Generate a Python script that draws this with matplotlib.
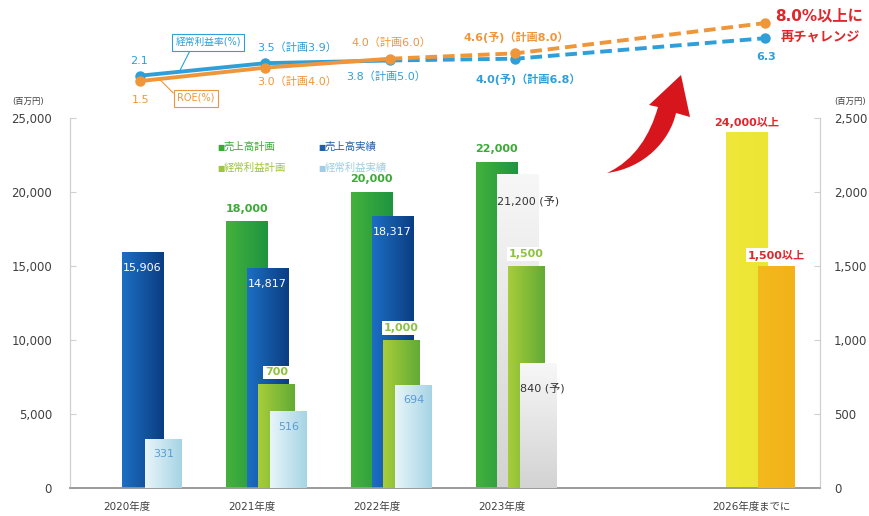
import numpy as np
import matplotlib
matplotlib.use("Agg")
import matplotlib.pyplot as plt
from matplotlib.colors import to_rgb
from matplotlib.path import Path
from matplotlib.patches import PathPatch

plt.rcParams['font.family'] = ['DejaVu Sans', 'Noto Sans CJK JP']

# --- data ---
years = ["2020年度", "2021年度", "2022年度", "2023年度", "2026年度までに"]
year_pos = [0, 1, 2, 3, 5]

plan_pos = [1, 2, 3]
sales_plan = [18000, 20000, 22000]
profit_plan = [700, 1000, 1500]

actual_pos = [0, 1, 2]
sales_actual = [15906, 14817, 18317]
profit_actual = [331, 516, 694]

fc_pos = 3
sales_fc = 21200
profit_fc = 840

target_pos = 5
sales_target = 24000
profit_target = 1500

margin = [2.1, 3.5, 3.8, 4.0, 6.3]
margin_txt = ["2.1", "3.5（計画3.9）", "3.8（計画5.0）", "4.0(予)（計画6.8）", "6.3"]
roe = [1.5, 3.0, 4.0, 4.6, 8.0]
roe_txt = ["1.5", "3.0（計画4.0）", "4.0（計画6.0）", "4.6(予)（計画8.0）", "8.0%以上に"]

# colours
GREEN = ('#43b23c', '#1f9440')
BLUE = ('#1c6fc4', '#0b3d82')
LGREEN = ('#a8cd3a', '#62ab36')
LBLUE = ('#e8f5f9', '#a6d4e5')
GREY = ('#f7f7f7', '#d3d3d3')
YELLOW = ('#efe83a', '#ece535')
ORANGE = ('#f4b91c', '#f1b21a')
C_LINE_B = '#2e9fd8'
C_LINE_O = '#f0963a'
RED = '#e0262a'

# bar offsets (left, width) relative to category position
OFF_G = (-0.208, 0.333)
OFF_B = (-0.04, 0.333)
OFF_LG = (0.052, 0.29)
OFF_LB = (0.148, 0.292)

W, H = 870, 516
fig = plt.figure(figsize=(8.7, 5.16), dpi=100)
L, R, B, T = 70 / W, 820 / W, 1 - 488 / H, 1 - 118 / H
XLIM = (-0.454, 5.546)

ax = fig.add_axes([L, B, R - L, T - B])
ax2 = ax.twinx()


def grad_bar(a, x, off, h, cols, z, vertical=False):
    c1, c2 = np.array(to_rgb(cols[0])), np.array(to_rgb(cols[1]))
    t = np.linspace(0, 1, 64)[:, None]
    g = c1 + (c2 - c1) * t
    img = g[:, None, :] if vertical else g[None, :, :]
    x0 = x + off[0]
    a.imshow(img, extent=[x0, x0 + off[1], 0, h], aspect='auto',
             interpolation='bilinear', origin='upper', zorder=z)
    return x0 + off[1] / 2


def lab(a, x, y, s, dy, color, bold=False, box=False, ha='center', size=8):
    a.annotate(s, xy=(x, y), xytext=(0, dy), textcoords='offset pixels',
               ha=ha, va='center', color=color, fontsize=size,
               fontweight='bold' if bold else 'normal', zorder=20,
               bbox=dict(fc='white', ec='none', pad=1.2) if box else None)


# sales (left axis)
for x, v in zip(plan_pos, sales_plan):
    cx = grad_bar(ax, x, OFF_G, v, GREEN, 2)
    lab(ax, cx, v, f"{v:,}", 13, '#3aaa35', bold=True)
for x, v in zip(actual_pos, sales_actual):
    cx = grad_bar(ax, x, OFF_B, v, BLUE, 3)
    lab(ax, cx, v, f"{v:,}", -15, 'white')
grad_bar(ax, fc_pos, OFF_B, sales_fc, GREY, 3, vertical=True)
lab(ax, fc_pos + OFF_B[0], sales_fc, f"{sales_fc:,} (予)", -27, '#333333', ha='left')
cx = grad_bar(ax, target_pos, OFF_G, sales_target, YELLOW, 2)
lab(ax, cx, sales_target, f"{sales_target:,}以上", 10, RED, bold=True, box=True)

# ordinary profit (right axis)
for x, v in zip(plan_pos, profit_plan):
    cx = grad_bar(ax2, x, OFF_LG, v, LGREEN, 4)
    lab(ax2, cx, v, f"{v:,}", 12, '#8dc23f', bold=True, box=True)
for x, v in zip(actual_pos, profit_actual):
    cx = grad_bar(ax2, x, OFF_LB, v, LBLUE, 5)
    lab(ax2, cx, v, f"{v:,}", -15, '#5b9bd5')
grad_bar(ax2, fc_pos, OFF_LB, profit_fc, GREY, 5, vertical=True)
lab(ax2, fc_pos + OFF_LB[0], profit_fc, f"{profit_fc:,} (予)", -25, '#333333', ha='left')
cx = grad_bar(ax2, target_pos, OFF_LG, profit_target, ORANGE, 4)
lab(ax2, cx, profit_target, f"{profit_target:,}以上", 11, RED, bold=True, box=True)

for a in (ax, ax2):
    a.set_xlim(*XLIM)
    for s in a.spines.values():
        s.set_color('#d0d0d0')
    a.spines['top'].set_visible(False)
    a.spines['bottom'].set_color('#9a9a9a')
    a.spines['bottom'].set_linewidth(1.2)
    a.set_facecolor('none')

ax.set_ylim(0, 25000)
ax2.set_ylim(0, 2500)
ax.set_yticks(np.arange(0, 25001, 5000))
ax2.set_yticks(np.arange(0, 2501, 500))
ax.set_yticklabels([f"{v:,}" for v in range(0, 25001, 5000)])
ax2.set_yticklabels([f"{v:,}" for v in range(0, 2501, 500)])
ax.tick_params(axis='y', direction='in', length=4, color='#d0d0d0', pad=13,
               labelsize=8.5, labelcolor='#404040')
ax2.tick_params(axis='y', direction='in', length=4, color='#d0d0d0', pad=10,
                labelsize=8.5, labelcolor='#404040')
ax.set_xticks(year_pos)
ax.set_xticklabels(years)
ax.tick_params(axis='x', length=0, pad=10, labelsize=7.5, labelcolor='#404040')

fig.text(28 / W, 1 - 101 / H, "(百万円)", ha='center', va='center', fontsize=6, color='#404040')
fig.text(850 / W, 1 - 101 / H, "(百万円)", ha='center', va='center', fontsize=6, color='#404040')

# legend
leg = [("売上高計画", '#3aaa35', 217, 147), ("売上高実績", '#1f5fa8', 318, 147),
       ("経常利益計画", '#9dc63a', 217, 168), ("経常利益実績", '#9ccfe3', 318, 168)]
for s, c, px, py in leg:
    fig.text(px / W, 1 - py / H, "■", ha='left', va='center', fontsize=5.5, color=c)
    fig.text((px + 7) / W, 1 - py / H, s, ha='left', va='center', fontsize=7.5, color=c)

# --- top line chart ---
axt = fig.add_axes([L, 1 - 110 / H, R - L, 110 / H])
axt.set_xlim(*XLIM)
axt.set_ylim(-1.75, 10.58)
axt.axis('off')
lx = [p + 0.11 for p in year_pos]
for vals, c in ((margin, C_LINE_B), (roe, C_LINE_O)):
    axt.plot(lx[:3], vals[:3], color=c, lw=2.8, solid_capstyle='round')
    axt.plot(lx[2:], vals[2:], color=c, lw=2.8, dashes=(3, 1.5))
    axt.plot(lx, vals, 'o', color=c, ms=6.5)

b_off = [(-1, 15), (32, 16), (-4, -16), (13, -21), (1, -19)]
o_off = [(0, -19), (32, -14), (1, 16), (1, 16)]
for i, (x, v, s) in enumerate(zip(lx, margin, margin_txt)):
    axt.annotate(s, xy=(x, v), xytext=b_off[i], textcoords='offset pixels',
                 ha='center', va='center', fontsize=8, color=C_LINE_B,
                 fontweight='bold' if i >= 3 else 'normal')
for i, (x, v, s) in enumerate(zip(lx[:4], roe[:4], roe_txt[:4])):
    axt.annotate(s, xy=(x, v), xytext=o_off[i], textcoords='offset pixels',
                 ha='center', va='center', fontsize=8, color=C_LINE_O,
                 fontweight='bold' if i == 3 else 'normal')
axt.annotate(roe_txt[4], xy=(lx[4], roe[4]), xytext=(10, 7), textcoords='offset pixels',
             ha='left', va='center', fontsize=11, color=RED, fontweight='bold')
axt.annotate("再チャレンジ", xy=(lx[4], roe[4]), xytext=(15, -14), textcoords='offset pixels',
             ha='left', va='center', fontsize=9.5, color=RED, fontweight='bold')

# boxed series names with leader lines
f = 0.31
axt.annotate("経常利益率(%)", xy=(lx[0] + f, margin[0] + (margin[1] - margin[0]) * f),
             xytext=(208 / W, 1 - 42.5 / H), textcoords='figure fraction',
             ha='center', va='center', fontsize=7, color=C_LINE_B,
             bbox=dict(fc='white', ec=C_LINE_B, lw=0.8, pad=2.5),
             arrowprops=dict(arrowstyle='-', color=C_LINE_B, lw=0.8,
                             shrinkA=0, shrinkB=0, relpos=(0.25, 0)))
f = 0.15
axt.annotate("ROE(%)", xy=(lx[0] + f, roe[0] + (roe[1] - roe[0]) * f),
             xytext=(196 / W, 1 - 98 / H), textcoords='figure fraction',
             ha='center', va='center', fontsize=7, color=C_LINE_O,
             bbox=dict(fc='white', ec=C_LINE_O, lw=0.8, pad=2.5),
             arrowprops=dict(arrowstyle='-', color=C_LINE_O, lw=0.8,
                             shrinkA=0, shrinkB=0, relpos=(0, 0.6)))

# big red curved arrow
pts = [(607, 173), (645, 168), (670, 140), (676, 113), (690, 117), (681, 75),
       (649, 105), (658, 107), (650, 135), (635, 160), (607, 173)]
codes = [Path.MOVETO, Path.CURVE4, Path.CURVE4, Path.CURVE4, Path.LINETO, Path.LINETO,
         Path.LINETO, Path.LINETO, Path.CURVE4, Path.CURVE4, Path.CURVE4]
verts = [(px / W, 1 - py / H) for px, py in pts]
fig.add_artist(PathPatch(Path(verts, codes), fc='#d7151d', ec='none',
                         transform=fig.transFigure, zorder=30))

fig.savefig("out.png", dpi=100)
